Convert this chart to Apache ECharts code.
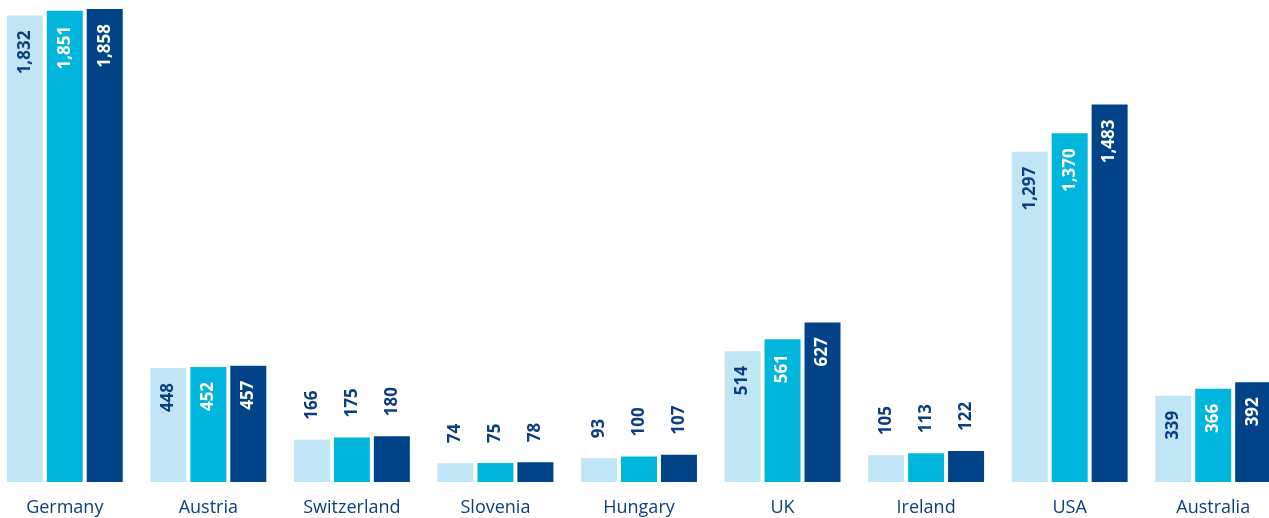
<!DOCTYPE html>
<html><head><meta charset="utf-8">
<script src="https://cdn.jsdelivr.net/npm/echarts@6/dist/echarts.min.js"></script>
<style>html,body{margin:0;padding:0;background:#fff;overflow:hidden}#c{width:1292px;height:518px;margin-left:-7px}</style>
</head><body><div id="c"></div>
<script>
const categories = ['Germany','Austria','Switzerland','Slovenia','Hungary','UK','Ireland','USA','Australia'];
const series1 = [1832,448,166,74,93,514,105,1297,339];
const series2 = [1851,452,175,75,100,561,113,1370,366];
const series3 = [1858,457,180,78,107,627,122,1483,392];

const colors = ['#c0e5f4','#00b6dd','#004388'];
const navy = '#0b3f80';
const insideText = [navy,'#ffffff','#ffffff'];
const font = '"Open Sans", "Noto Sans", sans-serif';

function makeData(arr, si){
  return arr.map(v => {
    const inside = v > 300;
    return {
      value: v,
      label: inside ? {
        position:'insideTop', rotate:90, align:'right', verticalAlign:'middle',
        distance:15, color: insideText[si]
      } : {
        position:'top', rotate:90, align:'left', verticalAlign:'middle',
        distance:20, color: navy
      }
    };
  });
}
const all = [series1,series2,series3];
const chart = echarts.init(document.getElementById('c'));
chart.setOption({
  animation:false,
  grid:{left:0, right:0, top:9, bottom:36, containLabel:false},
  xAxis:{type:'category', data:categories, axisLine:{show:false}, axisTick:{show:false},
    axisLabel:{color:navy, fontSize:18, fontFamily:font, margin:17}},
  yAxis:{type:'value', min:0, max:1858, show:false, splitLine:{show:false}},
  series: all.map((arr,i)=>({
    type:'bar', data:makeData(arr,i), barWidth:36, barGap:'11%',
    itemStyle:{color:colors[i]},
    label:{show:true, fontSize:17, fontWeight:'bold', fontFamily:font,
      formatter:p=>p.value.toLocaleString('en-US')}
  }))
});
</script></body></html>
